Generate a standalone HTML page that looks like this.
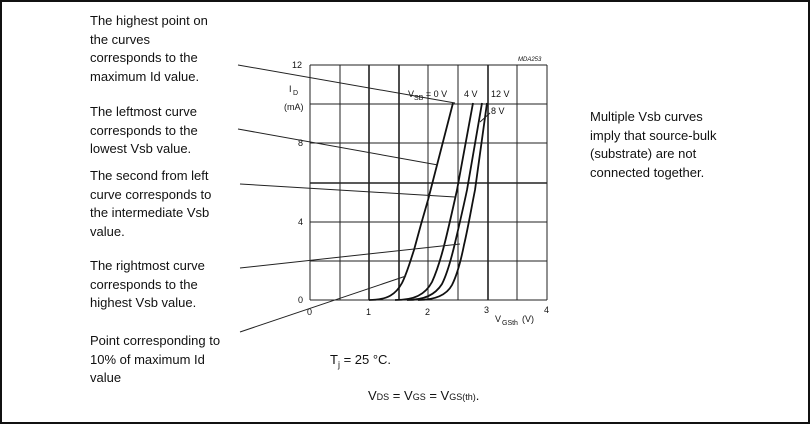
<!DOCTYPE html>
<html><head><style>
body{margin:0;background:#fff}
#c{position:relative;width:810px;height:424px;overflow:hidden;box-sizing:border-box;border:2px solid #111;font-family:"Liberation Sans",Arial,sans-serif;color:#111}
.t{position:absolute;font-size:13px;line-height:18.5px;white-space:nowrap}
svg{position:absolute;left:0;top:0}
</style></head><body><div id="c">
<div class="t" style="left:88px;top:10px">The highest point on<br>the curves<br>corresponds to the<br>maximum Id value.</div>
<div class="t" style="left:88px;top:101px">The leftmost curve<br>corresponds to the<br>lowest Vsb value.</div>
<div class="t" style="left:88px;top:165px">The second from left<br>curve corresponds to<br>the intermediate Vsb<br>value.</div>
<div class="t" style="left:88px;top:255px">The rightmost curve<br>corresponds to the<br>highest Vsb value.</div>
<div class="t" style="left:88px;top:330px">Point corresponding to<br>10% of maximum Id<br>value</div>
<div class="t" style="left:588px;top:106px">Multiple Vsb curves<br>imply that source-bulk<br>(substrate) are not<br>connected together.</div>
<div class="t" style="left:328px;top:349px">T<sub style="font-size:9px">j</sub> = 25 °C.</div>
<div class="t" style="left:366px;top:385px">V<span style="font-size:9px">DS</span> = V<span style="font-size:9px">GS</span> = V<span style="font-size:9px">GS(th)</span>.</div>
<svg width="806" height="420" viewBox="2 2 806 420" font-family="Liberation Sans,Arial,sans-serif" fill="#111">
<g stroke="#222" stroke-width="1">
<line x1="310" y1="65" x2="310" y2="300"/><line x1="340" y1="65" x2="340" y2="300"/>
<line x1="369" y1="65" x2="369" y2="300" stroke-width="1.6"/><line x1="399" y1="65" x2="399" y2="300" stroke-width="1.6"/>
<line x1="428" y1="65" x2="428" y2="300"/><line x1="458" y1="65" x2="458" y2="300"/>
<line x1="488" y1="65" x2="488" y2="300" stroke-width="1.6"/><line x1="517" y1="65" x2="517" y2="300"/>
<line x1="547" y1="65" x2="547" y2="300"/>
<line x1="310" y1="65" x2="547" y2="65"/><line x1="310" y1="104" x2="547" y2="104"/>
<line x1="310" y1="143" x2="547" y2="143"/><line x1="310" y1="183" x2="547" y2="183" stroke-width="1.6"/>
<line x1="310" y1="222" x2="547" y2="222"/><line x1="310" y1="261" x2="547" y2="261"/>
<line x1="310" y1="300" x2="547" y2="300"/>
</g>
<g fill="none" stroke="#111" stroke-width="1.8" stroke-linejoin="round">
<path d="M369,300 C388,300 396,294 402,283 C407,273 410,262 414,250 C418,235 423,217 428,200 L453,103"/>
<path d="M395,300 C414,300 425,295 432,282 C437,271 441,258 445,242 C449,226 453,208 457,190 L473,103"/>
<path d="M407,300 C424,300 435,295 442,284 C447,274 451,260 455,243 C459,226 463,209 467,190 L482,103"/>
<path d="M418,300 C434,300 446,296 452,285 C457,275 461,260 464,245 C468,228 471,210 475,190 L487,103"/>
</g>
<g stroke="#222" stroke-width="1" fill="none">
<line x1="238" y1="65" x2="455" y2="103"/>
<line x1="238" y1="129" x2="438" y2="165"/>
<line x1="240" y1="184" x2="455" y2="197"/>
<line x1="240" y1="268" x2="460" y2="244"/>
<line x1="240" y1="332" x2="406" y2="276"/>
<line x1="480" y1="122" x2="490" y2="113"/>
</g>
<g font-size="9">
<text x="292" y="68">12</text><text x="298" y="146">8</text><text x="298" y="225">4</text><text x="298" y="303">0</text>
<text x="289" y="92">I</text><text x="293" y="95" font-size="7">D</text><text x="284" y="110">(mA)</text>
<text x="307" y="315">0</text><text x="366" y="315">1</text><text x="425" y="315">2</text><text x="484" y="313">3</text><text x="544" y="313">4</text>
<text x="495" y="322">V</text><text x="502" y="325" font-size="7">GSth</text><text x="522" y="322">(V)</text>
<text x="518" y="61" font-size="6" font-style="italic">MDA253</text>
<text x="408" y="97">V<tspan font-size="7" dy="3">SB</tspan><tspan dy="-3"> = 0 V</tspan></text>
<text x="464" y="97">4 V</text><text x="491" y="97">12 V</text><text x="491" y="114">8 V</text>
</g>
</svg>
</div></body></html>
